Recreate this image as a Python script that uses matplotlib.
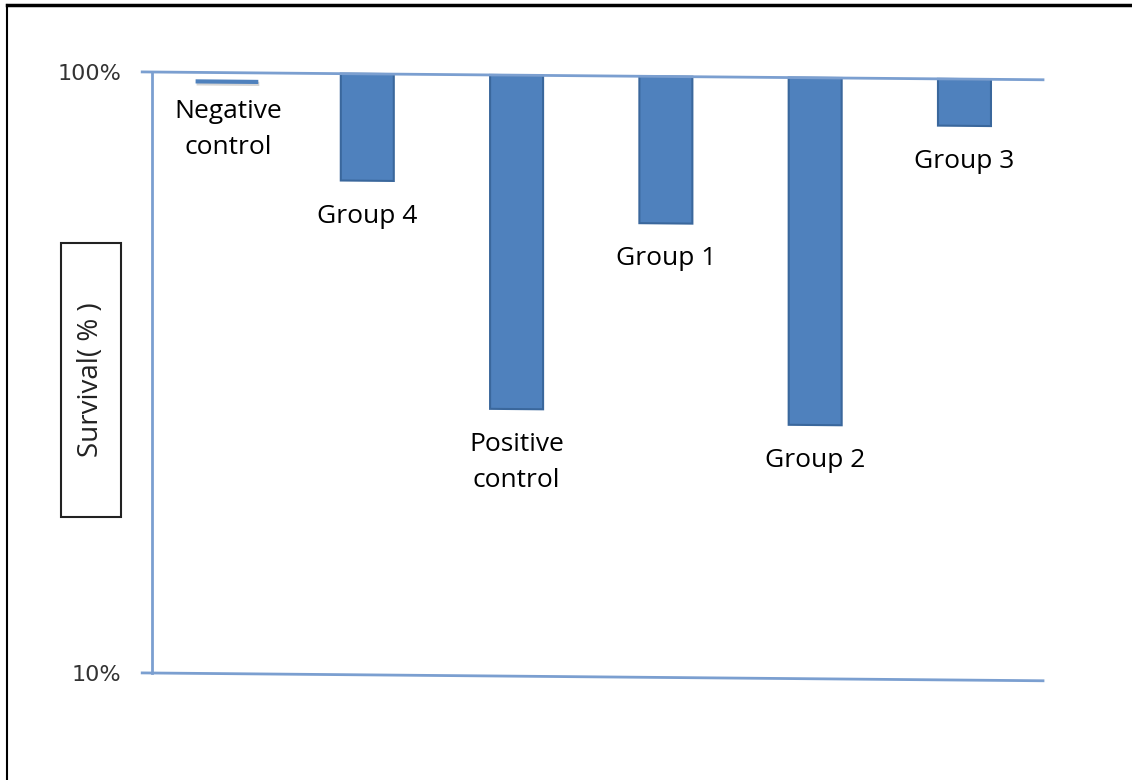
import numpy as np
import matplotlib.pyplot as plt
from matplotlib.transforms import Affine2D
from matplotlib.patches import Rectangle
from matplotlib.lines import Line2D

groups = ['Negative\ncontrol', 'Group 4', 'Positive\ncontrol', 'Group 1', 'Group 2', 'Group 3']
survival = [100, 84, 50, 78, 48, 93]

bar_color = '#4f81bd'
edge_color = '#3a679c'
axis_color = '#7b9fd0'

W, H = 1132, 780
fig = plt.figure(figsize=(W / 100, H / 100), dpi=100)
ax = fig.add_axes([152 / W, (H - 673) / H, (1043 - 152) / W, (673 - 72) / H])

x = np.arange(len(groups))
ax.set_xlim(-0.442, 5.526)
ax.set_ylim(10, 100)

# the whole plot leans slightly downward to the right
skew = Affine2D().translate(-152, 0).skew_deg(0, -0.5).translate(152, 0)
tr = ax.transData + skew
tr_y = ax.get_yaxis_transform() + skew

for s in ['top', 'right', 'bottom']:
    ax.spines[s].set_visible(False)
ax.spines['left'].set_color(axis_color)
ax.spines['left'].set_linewidth(2)

# top and bottom guide lines
for yv in [100, 10]:
    ax.plot([-0.011, 1], [yv, yv], color=axis_color, lw=2, transform=tr_y, clip_on=False)

ax.set_xticks([])
ax.set_yticks([10, 100])
ax.set_yticklabels(['10%', '100%'], fontsize=16, color='#333333')
ax.tick_params(axis='y', length=0, pad=22)

width = 0.355
for xi, v, name in zip(x, survival, groups):
    if v >= 100:
        # full survival drawn as a short dash just under the top line
        ax.plot([xi - 0.15, xi + 0.27], [v, v], color='#aaaaaa', lw=3, alpha=0.5,
                transform=tr + Affine2D().translate(1, -11), solid_capstyle='butt')
        ax.plot([xi - 0.15, xi + 0.27], [v, v], color=bar_color, lw=3,
                transform=tr + Affine2D().translate(0, -9), solid_capstyle='butt')
        dx, dy = 10, -26
    else:
        bars = ax.bar(xi, v - 100, bottom=100, width=width, color=bar_color,
                      edgecolor=edge_color, linewidth=1.5)
        for p in bars:
            p.set_transform(tr)
        dx, dy = 0, -23
    ax.annotate(name, (xi, v), xycoords=tr, xytext=(dx, dy), textcoords='offset pixels',
                ha='center', va='top', fontsize=19, family='Open Sans', linespacing=1.6)

# boxed y label
fig.add_artist(Rectangle((61 / W, (H - 517) / H), 60 / W, 274 / H, transform=fig.transFigure,
                         fill=False, edgecolor='#222222', lw=1.5))
fig.text(91 / W, (H - 380) / H, 'Survival( % )', rotation=90, ha='center', va='center',
         fontsize=20, family='Open Sans', color='#222222')

# frame at the top and left edge
fig.add_artist(Line2D([7 / W, 1], [(H - 5) / H, (H - 5) / H], color='black', lw=2.5,
                      transform=fig.transFigure))
fig.add_artist(Line2D([7 / W, 7 / W], [0, (H - 5) / H], color='black', lw=1.5,
                      transform=fig.transFigure))

fig.savefig('out.png', dpi=100)
